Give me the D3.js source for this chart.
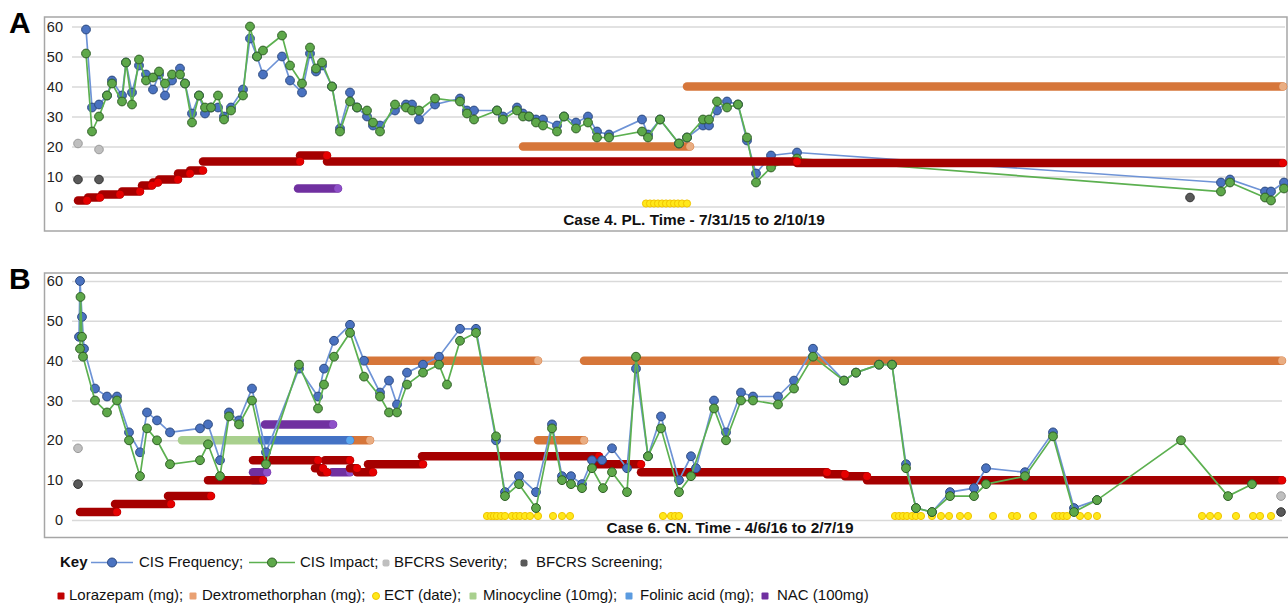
<!DOCTYPE html>
<html>
<head>
<meta charset="utf-8">
<script src="https://cdn.jsdelivr.net/npm/d3@7"></script>
<style>
    body { margin: 0; background: #fff; }
    svg { font-family: "Liberation Sans", Arial, sans-serif; }
</style>
</head>
<body>
<svg id="chart" width="1288" height="606"></svg>
<script>
// time runs along an index 0..121 for each case (left to right of the timeline)
const yTicks = [0, 10, 20, 30, 40, 50, 60];

// ---- Case 4 (panel A) ----
const aTime = [0.8, 1.4, 2.1, 2.9, 3.4, 4.4, 4.8, 5.4, 6.1, 6.8, 7.5, 8.1, 8.7, 9.4, 10.2, 10.7, 11.4, 12.1, 12.7, 13.3,
    14.0, 14.6, 15.3, 16.5, 17.2, 17.9, 18.5, 20.4, 21.2, 22.4, 23.2, 23.8, 24.4, 25.4, 26.2, 27.2, 27.9, 28.9, 29.5, 30.2,
    31.7, 32.8, 33.4, 34.1, 35.7, 38.2, 38.9, 39.6, 41.9, 42.5, 43.9, 44.5, 45.1, 45.8, 46.5, 47.9, 48.6, 49.8, 51.0, 51.9,
    53.1, 56.4, 57.0, 58.2, 60.1, 60.9, 62.5, 63.1, 63.9, 64.9, 66.0, 66.9, 67.8, 69.3, 71.9, 114.3, 115.2, 118.7, 119.3, 120.6];
const aFreq = [59, 33, 34, 37, 42, 37, 48, 38, 47, 44, 39, 44, 37, 42, 46, 41, 31, 37, 31, 33,
    33, 30, 33, 39, 56, 50, 44, 50, 42, 38, 51, 45, 47, 40, 26, 38, 33, 30, 27, 27,
    32, 34, 34, 29, 34, 36, 32, 32, 32, 30, 33, 31, 30, 29, 29, 27, 30, 28, 30, 25,
    24, 29, 24, 29, 21, 23, 27, 27, 32, 35, 34, 22, 11, 17, 18, 8, 9, 5, 5, 8];
const aImpact = [51, 25, 30, 37, 41, 35, 48, 34, 49, 42, 43, 45, 41, 44, 44, 41, 28, 37, 33, 33,
    37, 29, 32, 37, 60, 50, 52, 57, 47, 41, 53, 46, 48, 40, 25, 35, 33, 32, 28, 25,
    34, 33, 32, 32, 36, 35, 31, 29, 32, 29, 32, 30, 30, 28, 27, 25, 30, 26, 28, 23,
    23, 25, 23, 29, 21, 23, 29, 29, 35, 33, 34, 23, 8, 13, 16, 5, 8, 3, 2, 6];
const aSeverity = [[0, 21], [2.1, 19]];
const aScreening = [[0, 9], [2.1, 9], [111.2, 3]];
// [start, end, dose]
const aLorazepam = [[0, 0.9, 2], [1.0, 2.2, 3], [2.4, 4.2, 4], [4.4, 6.2, 5], [6.4, 7.4, 7], [7.5, 8.0, 8],
    [8.1, 10.0, 9], [10.0, 11.2, 11], [11.2, 12.5, 12], [12.5, 22.2, 15], [22.2, 24.9, 17], [24.9, 71.9, 15],
    [71.9, 120.5, 14.5]];
const aDextro = [[44.5, 61.2, 20], [60.9, 120.5, 40]];
const aNac = [[22.0, 26.0, 6]];
const aEct = [56.8, 57.2, 57.6, 58.0, 58.4, 58.8, 59.2, 59.6, 60.0, 60.4, 60.9];

// ---- Case 6 (panel B) ----
const bFreqTime = [0.1, 0.2, 0.4, 0.6, 1.7, 2.9, 3.9, 5.1, 6.2, 6.9, 7.9, 9.2, 12.2, 13.0, 14.2, 15.1, 16.1, 17.4, 18.8, 22.1,
    24.0, 24.6, 25.6, 27.2, 28.6, 30.2, 31.1, 31.9, 32.9, 34.5, 36.1, 38.2, 39.8, 41.8, 42.7, 44.1, 45.8, 47.4, 48.4, 49.3,
    50.4, 51.4, 52.4, 53.4, 54.9, 55.8, 57.0, 58.3, 60.1, 61.3, 61.8, 63.6, 64.8, 66.3, 67.5, 70.0, 71.6, 73.5, 76.6, 77.8,
    80.1, 81.4, 82.8, 83.8, 85.4, 87.2, 89.6, 90.8, 94.7, 97.5, 99.6, 101.9];
const bFreq = [46, 60, 51, 43, 33, 31, 31, 22, 17, 27, 25, 22, 23, 24, 15, 27, 25, 33, 17, 38,
    31, 38, 45, 49, 40, 32, 35, 29, 37, 39, 41, 48, 48, 20, 7, 11, 7, 24, 11, 11,
    9, 15, 15, 18, 13, 38, 16, 26, 10, 16, 13, 30, 22, 32, 31, 31, 35, 43, 35, 37,
    39, 39, 14, 3, 2, 7, 8, 13, 12, 22, 3, 5];
const bImpactTime = [0.2, 0.25, 0.4, 0.5, 1.7, 2.9, 3.9, 5.1, 6.2, 6.9, 7.9, 9.2, 12.2, 13.0, 14.2, 15.1, 16.1, 17.4, 18.8, 22.1,
    24.0, 24.6, 25.6, 27.2, 28.6, 30.2, 31.1, 31.9, 32.9, 34.5, 36.1, 36.9, 38.2, 39.8, 41.8, 42.7, 44.1, 45.8, 47.4, 48.4,
    49.3, 50.4, 51.4, 52.5, 53.4, 54.9, 55.8, 57.0, 58.3, 60.1, 61.3, 63.6, 64.8, 66.3, 67.5, 70.0, 71.6, 73.5, 76.6, 77.8,
    80.1, 81.4, 82.8, 83.8, 85.4, 87.2, 89.6, 90.8, 94.7, 97.5, 99.6, 101.9, 110.3, 115.0, 117.4];
const bImpact = [43, 56, 46, 41, 30, 27, 30, 20, 11, 23, 20, 14, 15, 19, 11, 26, 24, 30, 14, 39,
    28, 34, 41, 47, 36, 31, 27, 27, 34, 37, 39, 34, 45, 47, 21, 6, 9, 3, 23, 10,
    9, 8, 13, 8, 12, 7, 41, 16, 23, 7, 11, 28, 20, 30, 30, 29, 33, 41, 35, 37,
    39, 39, 13, 3, 2, 6, 6, 9, 11, 21, 2, 5, 20, 6, 9];
const bSeverity = [[0, 18], [120.3, 6]];
const bScreening = [[0, 9], [120.3, 2]];
const bLorazepam = [[0.2, 3.9, 2], [3.7, 9.3, 4], [9.0, 13.3, 6], [13.0, 18.5, 10], [17.5, 24.0, 15],
    [23.7, 24.5, 13], [24.3, 24.9, 12], [24.7, 27.2, 15], [27.2, 27.9, 13], [27.9, 29.5, 12], [29.0, 34.5, 14],
    [34.4, 52.1, 16], [51.9, 56.3, 14], [56.3, 74.9, 12], [74.9, 76.7, 11.5], [76.7, 78.9, 11], [78.9, 120.4, 10]];
const bDextro = [[27.2, 29.2, 20], [29.0, 46.0, 40], [46.0, 50.6, 20], [50.6, 120.4, 40]];
const bMinocycline = [[10.4, 18.5, 20]];
const bFolinic = [[17.5, 18.5, 10], [18.4, 27.2, 20]];
const bNac = [[17.5, 18.9, 12], [18.7, 25.5, 24], [25.4, 27.2, 12]];
const bEct = [40.9, 41.3, 41.6, 41.9, 42.3, 42.7, 43.4, 43.8, 44.2, 44.7, 45.2, 46.0, 47.5, 48.4, 49.2,
    58.5, 59.3, 59.7, 60.1,
    81.7, 82.1, 82.5, 82.9, 83.4, 83.8, 84.3, 85.4, 86.3, 87.1, 88.2, 89.0,
    91.5, 93.4, 93.9, 95.5, 97.7, 98.1, 98.5, 98.9, 100.2, 101.0, 101.9,
    112.4, 113.2, 114.0, 115.8, 117.5, 118.2, 119.3];

const colors = {
    freq: "#4a72c0", freqLine: "#6e93d6", freqEdge: "#2c4a80",
    impact: "#5ea84a", impactLine: "#5cb050", impactEdge: "#2f5f26",
    severity: "#bfbfbf", screening: "#595959",
    lorazepam: "#a50000", lorazepamEnd: "#e60000",
    dextro: "#d6763a", dextroEnd: "#e9ad82",
    ect: "#ffe81a", ectEdge: "#f0c400",
    mino: "#a9d08e", minoEnd: "#b9dca2",
    folinic: "#4472c4", folinicEnd: "#5aa8f0",
    nac: "#7030a0", nacEnd: "#8e50c8"
};

let svg = d3.select("#chart");

function drawPanel(p) {
    let g = svg.append("g");
    let x = d3.scaleLinear().domain([0, 121]).range([78, 1288]);
    let y = d3.scaleLinear().domain([0, 60]).range([p.bottom, p.top]);

    g.append("rect")
        .attr("x", 44.5).attr("y", p.frameTop)
        .attr("width", p.frameRight - 44.5).attr("height", p.frameBottom - p.frameTop)
        .attr("fill", "none").attr("stroke", "#a6a6a6").attr("stroke-width", 1.5);

    let yAxis = d3.axisLeft(y).tickValues(yTicks).tickSize(-(p.gridEnd - 72)).tickPadding(9);
    let ax = g.append("g").attr("transform", "translate(72,0)").call(yAxis);
    ax.select(".domain").remove();
    ax.selectAll("line").attr("stroke", "#d9d9d9").attr("stroke-width", 1.5);
    ax.selectAll("text").attr("font-size", 14.5).attr("fill", "#222")
        .attr("font-family", "'Liberation Sans', Arial, sans-serif");

    // panel letter
    g.append("text").attr("x", 9).attr("y", p.frameTop + 16)
        .attr("font-size", 30).attr("font-weight", "bold").text(p.letter);

    function bars(data, color, endColor) {
        let s = g.append("g");
        s.selectAll("line").data(data).enter().append("line")
            .attr("x1", d => x(d[0])).attr("x2", d => x(d[1]))
            .attr("y1", d => y(d[2])).attr("y2", d => y(d[2]))
            .attr("stroke", color).attr("stroke-width", 8.5).attr("stroke-linecap", "round");
        s.selectAll("circle").data(data).enter().append("circle")
            .attr("cx", d => x(d[1])).attr("cy", d => y(d[2])).attr("r", 3.8)
            .attr("fill", endColor);
    }

    function dots(data, fill, edge, r) {
        g.append("g").selectAll("circle").data(data).enter().append("circle")
            .attr("cx", d => x(d[0])).attr("cy", d => y(d[1])).attr("r", r)
            .attr("fill", fill).attr("stroke", edge).attr("stroke-width", 1);
    }

    function series(times, values, line, fill, edge) {
        let pts = times.map((t, i) => [t, values[i]]);
        g.append("path").datum(pts)
            .attr("d", d3.line().x(d => x(d[0])).y(d => y(d[1])))
            .attr("fill", "none").attr("stroke", line).attr("stroke-width", 1.7);
        dots(pts, fill, edge, 4.4);
    }

    if (p.dextro) bars(p.dextro, colors.dextro, colors.dextroEnd);
    if (p.mino) bars(p.mino, colors.mino, colors.minoEnd);
    if (p.folinic) bars(p.folinic, colors.folinic, colors.folinicEnd);
    if (p.nac) bars(p.nac, colors.nac, colors.nacEnd);
    if (!p.redOnTop) bars(p.lorazepam, colors.lorazepam, colors.lorazepamEnd);

    dots(p.ect.map(t => [t, 1]), colors.ect, colors.ectEdge, 3.6);
    dots(p.severity, colors.severity, "#9a9a9a", 4.3);
    dots(p.screening, colors.screening, "#333", 4.3);

    series(p.freqTime, p.freq, colors.freqLine, colors.freq, colors.freqEdge);
    series(p.impactTime, p.impact, colors.impactLine, colors.impact, colors.impactEdge);

    if (p.redOnTop) bars(p.lorazepam, colors.lorazepam, colors.lorazepamEnd);

    g.append("text").attr("x", p.titleX).attr("y", p.titleY)
        .attr("text-anchor", "middle").attr("font-size", 15.4).attr("font-weight", "bold")
        .attr("fill", "#111").text(p.title);
}

drawPanel({
    letter: "A", frameTop: 17, frameBottom: 231, frameRight: 1287, gridEnd: 1285,
    top: 26.5, bottom: 206.5,
    freqTime: aTime, freq: aFreq, impactTime: aTime, impact: aImpact,
    severity: aSeverity, screening: aScreening, lorazepam: aLorazepam,
    dextro: aDextro, nac: aNac, ect: aEct, redOnTop: true,
    title: "Case 4. PL. Time - 7/31/15 to 2/10/19", titleX: 694, titleY: 225
});

drawPanel({
    letter: "B", frameTop: 273, frameBottom: 537.5, frameRight: 1296, gridEnd: 1282,
    top: 281, bottom: 520,
    freqTime: bFreqTime, freq: bFreq, impactTime: bImpactTime, impact: bImpact,
    severity: bSeverity, screening: bScreening, lorazepam: bLorazepam,
    dextro: bDextro, mino: bMinocycline, folinic: bFolinic, nac: bNac, ect: bEct, redOnTop: false,
    title: "Case 6. CN. Time - 4/6/16 to 2/7/19", titleX: 730, titleY: 533
});

// ---- key ----
let key = svg.append("g").attr("font-size", 15).attr("fill", "#111");
key.append("text").attr("x", 60).attr("y", 567).attr("font-weight", "bold").text("Key");

let keyLines = [
    { x1: 91, x2: 133, line: colors.freqLine, fill: colors.freq, edge: colors.freqEdge, label: "CIS Frequency;", tx: 139 },
    { x1: 249, x2: 295, line: colors.impactLine, fill: colors.impact, edge: colors.impactEdge, label: "CIS Impact;", tx: 300 }
];
keyLines.forEach(function (k) {
    key.append("line").attr("x1", k.x1).attr("x2", k.x2).attr("y1", 562.5).attr("y2", 562.5)
        .attr("stroke", k.line).attr("stroke-width", 1.7);
    key.append("circle").attr("cx", (k.x1 + k.x2) / 2).attr("cy", 562.5).attr("r", 4.5)
        .attr("fill", k.fill).attr("stroke", k.edge);
    key.append("text").attr("x", k.tx).attr("y", 567).text(k.label);
});

let keySquares = [
    { x: 386, y: 563, color: colors.severity, label: "BFCRS Severity;", tx: 394, round: true },
    { x: 524, y: 563, color: colors.screening, label: "BFCRS Screening;", tx: 536, round: true },
    { x: 61, y: 596, color: "#c00000", label: "Lorazepam (mg);", tx: 69 },
    { x: 193, y: 596, color: "#e9a072", label: "Dextromethorphan (mg);", tx: 202 },
    { x: 376, y: 596, color: colors.ect, label: "ECT (date);", tx: 384, circle: true },
    { x: 473, y: 596, color: colors.mino, label: "Minocycline (10mg);", tx: 483 },
    { x: 629, y: 596, color: "#5b9be0", label: "Folinic acid (mg);", tx: 640 },
    { x: 765, y: 596, color: colors.nac, label: "NAC (100mg)", tx: 777 }
];
keySquares.forEach(function (k) {
    if (k.circle) {
        key.append("circle").attr("cx", k.x).attr("cy", k.y).attr("r", 3.5)
            .attr("fill", k.color).attr("stroke", colors.ectEdge);
    } else {
        key.append("rect").attr("x", k.x - 3.5).attr("y", k.y - 3.5).attr("width", 7).attr("height", 7)
            .attr("rx", k.round ? 2 : 1).attr("fill", k.color);
    }
    key.append("text").attr("x", k.tx).attr("y", k.y + 4).text(k.label);
});
</script>
</body>
</html>
